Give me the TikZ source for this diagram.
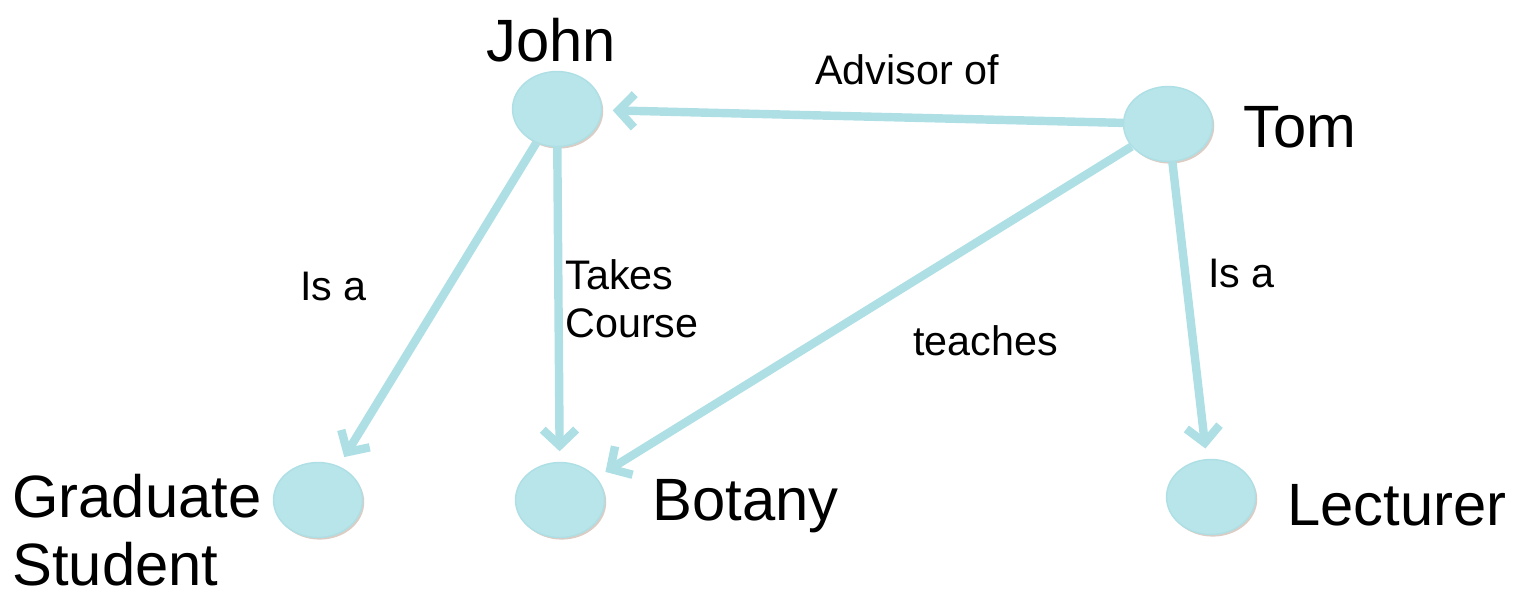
\documentclass[tikz,border=0pt]{standalone}
\usepackage{fontspec}
\setmainfont{Liberation Sans}
\usetikzlibrary{shapes.geometric,arrows.meta,shadows}

\definecolor{nodecyan}{HTML}{B8E5EA}
\definecolor{linecyan}{HTML}{ADDFE5}
\definecolor{shadebrown}{HTML}{B89A8A}

\tikzset{
    concept/.style={ellipse, fill=nodecyan, draw=linecyan, line width=0.8pt,
        minimum width=1.78cm, minimum height=1.5cm, inner sep=0pt,
        drop shadow={shadow xshift=1pt, shadow yshift=-1.2pt, fill=shadebrown, opacity=0.5}},
    relation/.style={draw=linecyan, line width=4.8pt,
        -{Straight Barb[length=9pt,width=19pt]}, shorten >=6pt},
    biglabel/.style={font=\fontsize{34}{38.5}\selectfont, inner sep=0pt},
    smalllabel/.style={font=\fontsize{23.5}{27}\selectfont, inner sep=0pt},
}

\begin{document}
\begin{tikzpicture}[x=0.02cm, y=0.02cm]
    \useasboundingbox (0,0) rectangle (1521,596);

    % concepts
    \node [concept] (john) at (557,487) {};
    \node [concept] (tom) at (1168,472) {};
    \node [concept] (grad) at (318,96) {};
    \node [concept] (botany) at (560,96) {};
    \node [concept] (lecturer) at (1211,99) {};

    % names
    \node [biglabel, anchor=base] (johnname) at (551,534) {John};
    \node [biglabel, anchor=base west] (tomname) at (1243,448) {Tom};
    \node [biglabel, anchor=base west, align=left] (gradname) at (12,11)
        {Graduate\\Student};
    \node [biglabel, anchor=base west] (botanyname) at (652,76) {Botany};
    \node [biglabel, anchor=base west] (lecturername) at (1287,71) {Lecturer};

    % relations
    \draw [relation] (tom) -- (john);
    \draw [relation] (john) -- (grad);
    \draw [relation] (john) -- (botany);
    \draw [relation] (tom) -- (botany);
    \draw [relation] (tom) -- (lecturer);

    % relation names
    \node [smalllabel, anchor=base west] (advisor) at (815,511) {Advisor of};
    \node [smalllabel, anchor=base west] (isaleft) at (300,296) {Is a};
    \node [smalllabel, anchor=base west, align=left] (takes) at (565,259)
        {Takes\\Course};
    \node [smalllabel, anchor=base west] (teaches) at (913,241) {teaches};
    \node [smalllabel, anchor=base west] (isaright) at (1208,309) {Is a};
\end{tikzpicture}
\end{document}
